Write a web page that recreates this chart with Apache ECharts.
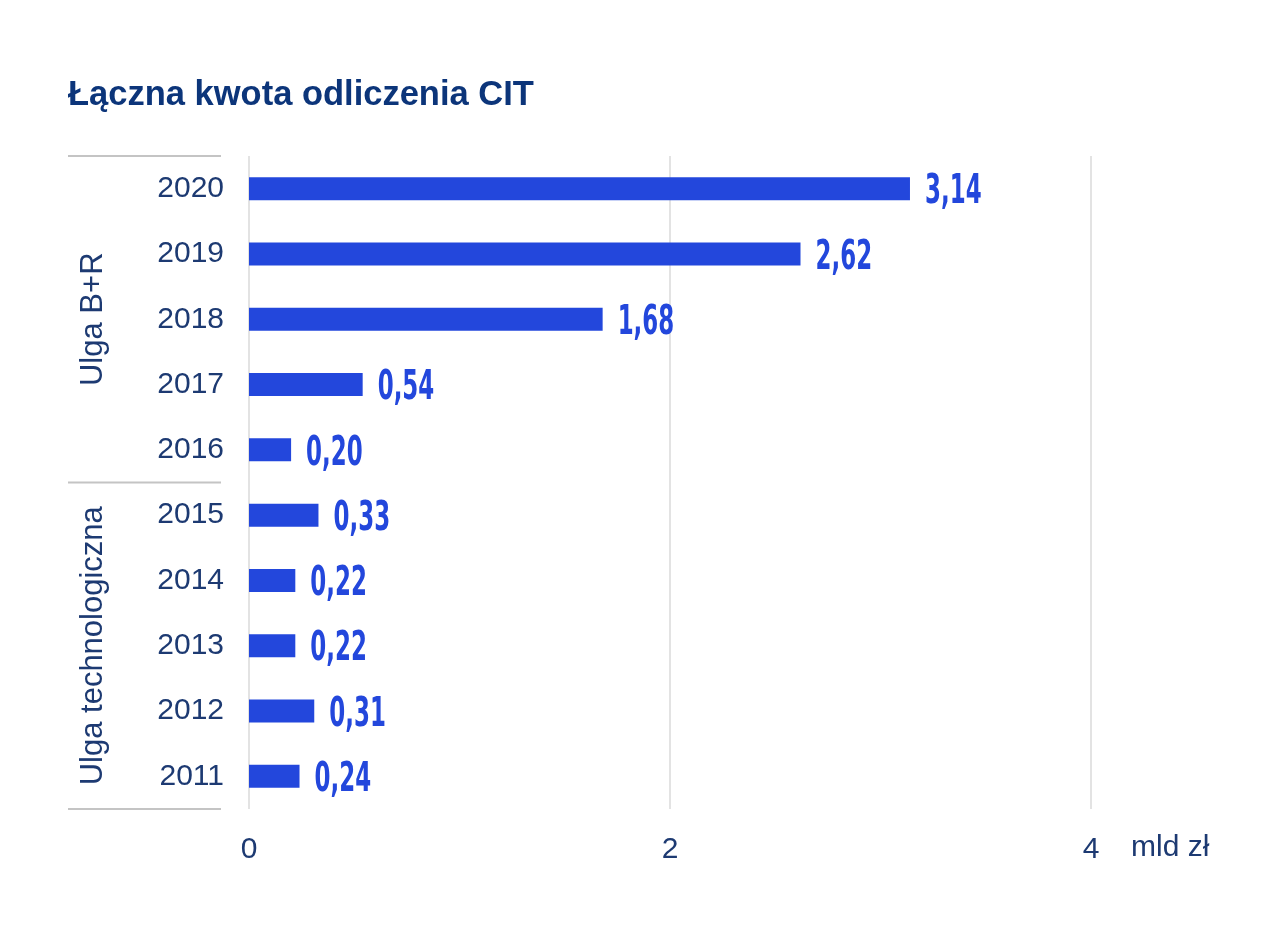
<!DOCTYPE html>
<html>
<head>
<meta charset="utf-8">
<script src="https://cdn.jsdelivr.net/npm/echarts@6/dist/echarts.min.js"></script>
<style>
html,body{margin:0;padding:0;background:#fff;}
#c{width:1280px;height:938px;}
</style>
</head>
<body>
<div id="c"></div>
<script>
const categories = ['2020','2019','2018','2017','2016','2015','2014','2013','2012','2011'];
const values = [3.14, 2.62, 1.68, 0.54, 0.20, 0.33, 0.22, 0.22, 0.31, 0.24];
const groups = [
  { name: 'Ulga B+R', from: '2020', to: '2016' },
  { name: 'Ulga technologiczna', from: '2015', to: '2011' }
];
const xTicks = [0, 2, 4];
const unitLabel = 'mld zł';
const titleText = 'Łączna kwota odliczenia CIT';

const navy = '#1d3a72';
const blue = '#2347dc';
const font = 'Liberation Sans, Arial, sans-serif';
const chart = echarts.init(document.getElementById('c'));
chart.setOption({
  animation: false,
  backgroundColor: '#fff',
  title: {
    text: titleText, left: 63, top: 73,
    textStyle: { fontFamily: font, fontWeight: 'bold', fontSize: 34.5, color: '#0c357a' }
  },
  grid: { left: 249, right: 189, top: 156, bottom: 129, containLabel: false },
  xAxis: {
    type: 'value', min: xTicks[0], max: xTicks[xTicks.length - 1], interval: 2,
    axisLine: { show: false }, axisTick: { show: false },
    splitLine: { show: true, lineStyle: { color: '#e3e3e3', width: 2 } },
    axisLabel: { margin: 26, fontSize: 30, color: navy, fontFamily: font }
  },
  yAxis: {
    type: 'category', data: categories, inverse: true,
    axisLine: { show: false }, axisTick: { show: false },
    axisLabel: { margin: 25, fontSize: 30, color: navy, fontFamily: font }
  },
  series: [{
    type: 'bar', data: values, barWidth: 23,
    itemStyle: { color: blue }
  }, {
    type: 'custom',
    data: values.map((v, i) => [v, i]),
    encode: { x: 0, y: 1 },
    renderItem: function (params, api) {
      const pt = api.coord([api.value(0), api.value(1)]);
      return {
        type: 'text', x: pt[0] + 15, y: pt[1] + 4, scaleX: 0.56,
        style: {
          text: api.value(0).toFixed(2).replace('.', ','),
          fontFamily: 'DejaVu Sans, sans-serif', fontWeight: 'bold', fontSize: 41,
          fill: blue, align: 'left', verticalAlign: 'middle'
        }
      };
    }
  }]
});

function drawGroups() {
  const half = (chart.convertToPixel({ yAxisIndex: 0 }, categories[1]) - chart.convertToPixel({ yAxisIndex: 0 }, categories[0])) / 2;
  const els = [];
  const lineStyle = { stroke: '#c4c4c4', lineWidth: 2 };
  groups.forEach((g, i) => {
    const y0 = chart.convertToPixel({ yAxisIndex: 0 }, g.from) - half;
    const y1 = chart.convertToPixel({ yAxisIndex: 0 }, g.to) + half;
    if (i === 0) els.push({ type: 'line', shape: { x1: 68, y1: y0, x2: 221, y2: y0 }, style: lineStyle });
    els.push({ type: 'line', shape: { x1: 68, y1: y1, x2: 221, y2: y1 }, style: lineStyle });
    els.push({
      type: 'text', x: 93, y: (y0 + y1) / 2, rotation: Math.PI / 2,
      style: { text: g.name, fontSize: 31, fill: navy, fontFamily: font, align: 'center', verticalAlign: 'middle' }
    });
  });
  const xEnd = chart.convertToPixel({ xAxisIndex: 0 }, xTicks[xTicks.length - 1]);
  const yBottom = chart.convertToPixel({ yAxisIndex: 0 }, categories[categories.length - 1]) + half;
  els.push({
    type: 'text', x: xEnd + 40, y: yBottom + 39,
    style: { text: unitLabel, fontSize: 30, fill: navy, fontFamily: font, align: 'left', verticalAlign: 'middle' }
  });
  chart.setOption({ graphic: els });
}
drawGroups();
</script>
</body>
</html>
